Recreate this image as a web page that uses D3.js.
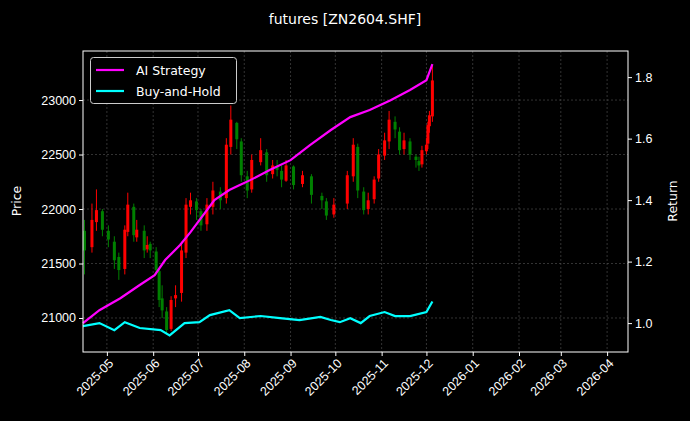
<!DOCTYPE html>
<html><head><meta charset="utf-8">
<script src="https://cdn.jsdelivr.net/npm/d3@7"></script>
<style>body{margin:0;background:#000}svg{font-family:"DejaVu Sans",sans-serif}</style>
</head><body><svg id="c" width="690" height="421"></svg>
<script>
const candleDates=["2025-04-16","2025-04-21","2025-04-24","2025-04-28","2025-05-02","2025-05-06","2025-05-09","2025-05-13","2025-05-15","2025-05-19","2025-05-21","2025-05-26","2025-05-28","2025-05-30","2025-06-03","2025-06-05","2025-06-07","2025-06-10","2025-06-13","2025-06-16","2025-06-20","2025-06-23","2025-06-26","2025-06-30","2025-07-03","2025-07-07","2025-07-11","2025-07-16","2025-07-20","2025-07-23","2025-07-27","2025-07-30","2025-08-03","2025-08-06","2025-08-12","2025-08-16","2025-08-20","2025-08-23","2025-08-26","2025-08-29","2025-09-03","2025-09-09","2025-09-15","2025-09-22","2025-09-25","2025-09-30","2025-10-09","2025-10-13","2025-10-16","2025-10-20","2025-10-23","2025-10-27","2025-10-30","2025-11-03","2025-11-06","2025-11-10","2025-11-13","2025-11-16","2025-11-20","2025-11-24","2025-11-26","2025-11-28","2025-12-01","2025-12-02","2025-12-03","2025-12-05"];
const closes=[21620,21900,21990,21810,21720,21530,21440,21810,22040,21760,21810,21620,21670,21620,21440,21165,21070,20890,21165,21210,21620,22040,22080,21990,21850,22040,22170,22080,22590,22820,22640,22310,22170,22450,22540,22310,22400,22360,22270,22400,22220,22310,22130,22080,21940,22040,22310,22590,22170,21990,22080,22270,22500,22630,22820,22730,22540,22630,22500,22450,22400,22540,22590,22770,22860,23180];
const opens=[21800,21650,21880,21980,21800,21700,21560,21450,21790,22020,21740,21800,21630,21680,21610,21430,21180,21060,20900,21180,21230,21600,22020,22070,21980,21860,22020,22160,22100,22570,22790,22620,22300,22180,22430,22520,22320,22390,22350,22260,22390,22230,22300,22120,22070,21950,22050,22300,22570,22160,22000,22090,22280,22490,22620,22800,22710,22550,22620,22480,22440,22410,22530,22600,22760,22850];
const highs=[21900,22050,22180,22000,21850,21750,21600,21850,22150,22050,21900,21850,21750,21700,21650,21450,21300,21100,21200,21300,21700,22100,22150,22100,22000,22100,22250,22200,22650,22950,22800,22650,22350,22500,22650,22550,22450,22450,22400,22450,22400,22350,22320,22150,22100,22100,22350,22650,22600,22200,22150,22300,22550,22700,22900,22850,22750,22700,22650,22500,22480,22580,22650,22800,22900,23320];
const lows=[21400,21600,21800,21750,21650,21450,21350,21400,21750,21700,21700,21550,21600,21550,21400,21100,21000,20850,20880,21100,21150,21550,21950,21900,21800,21800,21950,22000,22050,22500,22550,22250,22100,22150,22400,22250,22280,22300,22200,22250,22180,22200,22050,22000,21900,21920,22000,22250,22100,21950,21950,22050,22250,22450,22550,22650,22500,22500,22450,22380,22350,22380,22500,22550,22700,22800];
const stratDates=["2025-04-15","2025-04-26","2025-05-10","2025-05-23","2025-06-02","2025-06-09","2025-06-19","2025-06-26","2025-07-02","2025-07-12","2025-07-22","2025-07-29","2025-08-05","2025-08-18","2025-09-01","2025-09-14","2025-09-28","2025-10-11","2025-10-24","2025-11-07","2025-11-20","2025-12-01","2025-12-05"];
const stratVals=[1.00,1.042,1.081,1.124,1.156,1.205,1.254,1.296,1.335,1.40,1.433,1.449,1.465,1.498,1.53,1.579,1.628,1.67,1.693,1.725,1.758,1.79,1.842];
const bhDates=["2025-04-15","2025-04-26","2025-05-06","2025-05-13","2025-05-23","2025-06-06","2025-06-12","2025-06-22","2025-07-02","2025-07-09","2025-07-22","2025-07-29","2025-08-12","2025-08-25","2025-09-07","2025-09-21","2025-09-28","2025-10-04","2025-10-11","2025-10-18","2025-10-24","2025-11-03","2025-11-10","2025-11-20","2025-12-01","2025-12-05"];
const bhVals=[0.99,1.0,0.977,1.003,0.984,0.977,0.96,1.0,1.003,1.026,1.042,1.016,1.023,1.016,1.01,1.02,1.01,1.003,1.016,1.0,1.023,1.036,1.023,1.023,1.036,1.07];
const priceTicks=[21000,21500,22000,22500,23000];
const retTicks=[1.0,1.2,1.4,1.6,1.8];
const monthTicks=["2025-05","2025-06","2025-07","2025-08","2025-09","2025-10","2025-11","2025-12","2026-01","2026-02","2026-03","2026-04"];

const svg=d3.select("#c");
const L=83,R=628,T=51,B=352;
const pd=d3.timeParse("%Y-%m-%d"), pm=d3.timeParse("%Y-%m");
const x=d3.scaleTime().domain([pd("2025-04-15"),pd("2026-04-15")]).range([L,R]);
const yP=d3.scaleLinear().domain([20688,23450]).range([B,T]);
const yR=d3.scaleLinear().domain([0.906,1.885]).range([B,T]);
svg.append("rect").attr("width",690).attr("height",421).attr("fill","#000");
const g=svg.append("g");
const mt=monthTicks.map(pm);
g.selectAll(".gx").data(mt).join("line").attr("x1",d=>x(d)).attr("x2",d=>x(d)).attr("y1",T).attr("y2",B)
 .attr("stroke","#555").attr("stroke-width",0.6).attr("stroke-dasharray","2,2");
g.selectAll(".gy").data(priceTicks).join("line").attr("x1",L).attr("x2",R).attr("y1",d=>yP(d)).attr("y2",d=>yP(d))
 .attr("stroke","#555").attr("stroke-width",0.6).attr("stroke-dasharray","2,2");
const cd=candleDates.map((d,i)=>({d:pd(d),o:opens[i],c:closes[i],h:highs[i],l:lows[i]}));
const cg=g.append("g");
cd.forEach(k=>{const col=k.c>=k.o?"#ff0000":"#008000";const cx=x(k.d);
 cg.append("line").attr("x1",cx).attr("x2",cx).attr("y1",yP(k.h)).attr("y2",yP(k.l)).attr("stroke",col).attr("stroke-width",1);
 cg.append("rect").attr("x",cx-1.5).attr("width",3).attr("y",yP(Math.max(k.o,k.c))).attr("height",Math.max(1,Math.abs(yP(k.o)-yP(k.c)))).attr("fill",col);});
const line=d3.line().x(d=>x(d[0])).y(d=>yR(d[1]));
g.append("path").attr("d",line(bhDates.map((d,i)=>[pd(d),bhVals[i]]))).attr("fill","none").attr("stroke","#00ffff").attr("stroke-width",2.2);
g.append("path").attr("d",line(stratDates.map((d,i)=>[pd(d),stratVals[i]]))).attr("fill","none").attr("stroke","#ff00ff").attr("stroke-width",2.2);
g.append("rect").attr("x",L).attr("y",T).attr("width",R-L).attr("height",B-T).attr("fill","none").attr("stroke","#fff").attr("stroke-width",1);
const ax=svg.append("g").attr("transform",`translate(0,${B})`).call(d3.axisBottom(x).tickValues(mt).tickFormat(d3.timeFormat("%Y-%m")).tickSize(4));
ax.selectAll("text").attr("transform","rotate(-45)").style("text-anchor","end").attr("dx","-0.3em").attr("dy","0.5em");
const al=svg.append("g").attr("transform",`translate(${L},0)`).call(d3.axisLeft(yP).tickValues(priceTicks).tickFormat(d3.format("d")).tickSize(4));
const ar=svg.append("g").attr("transform",`translate(${R},0)`).call(d3.axisRight(yR).tickValues(retTicks).tickFormat(d3.format(".1f")).tickSize(4));
[ax,al,ar].forEach(a=>{a.select(".domain").remove();a.selectAll("line").attr("stroke","#fff");a.selectAll("text").attr("fill","#fff").style("font-size","12.5px");});
svg.append("text").attr("x",345).attr("y",24).attr("text-anchor","middle").attr("fill","#fff").style("font-size","14px").text("futures [ZN2604.SHF]");
svg.append("text").attr("transform","translate(21,201) rotate(-90)").attr("text-anchor","middle").attr("fill","#fff").style("font-size","12.5px").text("Price");
svg.append("text").attr("transform","translate(677,201) rotate(-90)").attr("text-anchor","middle").attr("fill","#fff").style("font-size","12.5px").text("Return");
const lg=svg.append("g");
lg.append("rect").attr("x",90.5).attr("y",57.5).attr("width",146).attr("height",46).attr("rx",3).attr("fill","#000").attr("stroke","#ccc");
[["AI Strategy","#ff00ff",70],["Buy-and-Hold","#00ffff",91]].forEach(([t,c,yy])=>{
 lg.append("line").attr("x1",96).attr("x2",124).attr("y1",yy).attr("y2",yy).attr("stroke",c).attr("stroke-width",2.2);
 lg.append("text").attr("x",136).attr("y",yy+4.5).attr("fill","#fff").style("font-size","12.5px").text(t);});
</script></body></html>
